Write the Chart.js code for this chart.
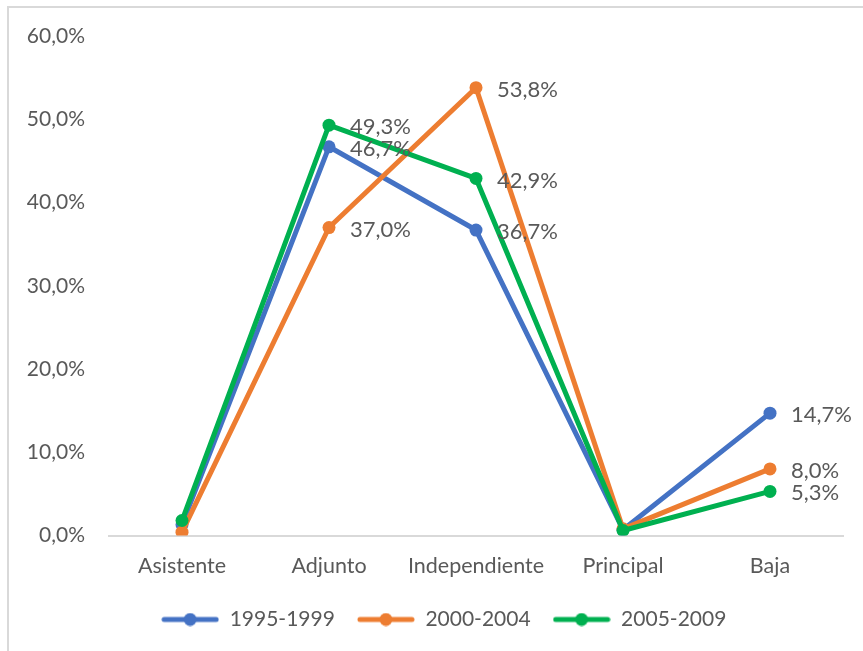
<!DOCTYPE html>
<html>
<head>
<meta charset="utf-8">
<title>Distribución por categoría</title>
<script src="https://cdn.jsdelivr.net/npm/chart.js@4.4.1/dist/chart.umd.min.js"></script>
<style>
  html, body { margin: 0; padding: 0; background: #ffffff; overflow: hidden; }
  #frame {
    position: absolute; left: 7px; top: 6px; width: 900px; height: 700px;
    border-top: 2px solid #d9d9d9; border-left: 2px solid #d9d9d9;
  }
  #wrap { position: absolute; left: 0; top: 0; width: 863px; height: 651px; }
</style>
</head>
<body>
<div id="frame"></div>
<div id="wrap"><canvas id="c" width="863" height="651"></canvas></div>
<script>
// Categories along the x axis
const categories = ['Asistente', 'Adjunto', 'Independiente', 'Principal', 'Baja'];

// Series names (periods)
const seriesNames = ['1995-1999', '2000-2004', '2005-2009'];

// Percentages per category for each period
const values1995 = [1.3, 46.7, 36.7, 0.7, 14.7];
const values2000 = [0.4, 37.0, 53.8, 0.8, 8.0];
const values2005 = [1.8, 49.3, 42.9, 0.6, 5.3];

// Y axis tick values (percent)
const yTicks = [0, 10, 20, 30, 40, 50, 60];

// Categories whose points carry a value label
const labelledIndexes = [1, 2, 4];

const colors = ['#4472c4', '#ed7d31', '#00b050'];
const textColor = '#595959';
const fontFamily = 'Lato, "Open Sans", sans-serif';

const fmtPct = v => v.toFixed(1).replace('.', ',') + '%';

// Legend marker: short line with a dot in the middle
function legendMarker(color) {
  const cv = document.createElement('canvas');
  cv.width = 58; cv.height = 14;
  const g = cv.getContext('2d');
  g.strokeStyle = color; g.lineWidth = 5; g.lineCap = 'round';
  g.beginPath(); g.moveTo(3, 7); g.lineTo(55, 7); g.stroke();
  g.fillStyle = color;
  g.beginPath(); g.arc(29, 7, 6.5, 0, Math.PI * 2); g.fill();
  return cv;
}
const markers = colors.map(legendMarker);

// Value labels placed to the right of selected points
const valueLabels = {
  id: 'valueLabels',
  afterDatasetsDraw(chart) {
    const ctx = chart.ctx;
    ctx.save();
    ctx.font = '22px ' + fontFamily;
    ctx.fillStyle = textColor;
    ctx.textAlign = 'left';
    ctx.textBaseline = 'middle';
    chart.data.datasets.forEach((ds, i) => {
      const meta = chart.getDatasetMeta(i);
      labelledIndexes.forEach(j => {
        const pt = meta.data[j];
        ctx.fillText(fmtPct(ds.data[j]), pt.x + 21, pt.y + 2);
      });
    });
    ctx.restore();
  }
};

// Nudge the legend row a little to the right of the canvas centre
const legendShift = {
  id: 'legendShift',
  afterLayout(chart) {
    if (chart.legend) {
      chart.legend.left += 22;
      chart.legend.right += 22;
    }
  }
};

const seriesValues = [values1995, values2000, values2005];
const datasets = seriesValues.map((vals, i) => ({
  label: seriesNames[i],
  data: vals,
  borderColor: colors[i],
  backgroundColor: colors[i],
  pointBackgroundColor: colors[i],
  pointBorderColor: colors[i],
  pointBorderWidth: 0,
  pointRadius: 6.5,
  borderWidth: 5,
  borderCapStyle: 'round',
  borderJoinStyle: 'round',
  tension: 0,
  fill: false,
  order: seriesValues.length - 1 - i
}));

new Chart(document.getElementById('c'), {
  type: 'line',
  data: { labels: categories, datasets },
  plugins: [valueLabels, legendShift],
  options: {
    responsive: false,
    animation: false,
    layout: { padding: { top: 36, left: 0, right: 19.5, bottom: 11 } },
    plugins: {
      tooltip: { enabled: false },
      legend: {
        position: 'bottom',
        align: 'center',
        labels: {
          usePointStyle: true,
          pointStyleWidth: 58,
          padding: 22,
          color: textColor,
          font: { family: fontFamily, size: 21 },
          sort: (a, b) => a.datasetIndex - b.datasetIndex,
          generateLabels(chart) {
            const items = Chart.defaults.plugins.legend.labels.generateLabels(chart);
            items.forEach(it => { it.pointStyle = markers[it.datasetIndex]; });
            return items;
          }
        }
      }
    },
    scales: {
      x: {
        offset: true,
        grid: { display: false, drawTicks: false },
        border: { display: true, color: '#d9d9d9', width: 2 },
        ticks: {
          color: textColor,
          font: { family: fontFamily, size: 21.5 },
          padding: 18,
          maxRotation: 0
        },
        afterFit(scale) { scale.height = 51.5; }
      },
      y: {
        min: 0,
        max: 60,
        grid: { display: false, drawTicks: false },
        border: { display: false },
        afterBuildTicks(scale) { scale.ticks = yTicks.map(v => ({ value: v })); },
        ticks: {
          color: textColor,
          font: { family: fontFamily, size: 21 },
          padding: 23.5,
          callback: v => fmtPct(v)
        },
        afterFit(scale) { scale.width = 108.5; }
      }
    }
  }
});
</script>
</body>
</html>
